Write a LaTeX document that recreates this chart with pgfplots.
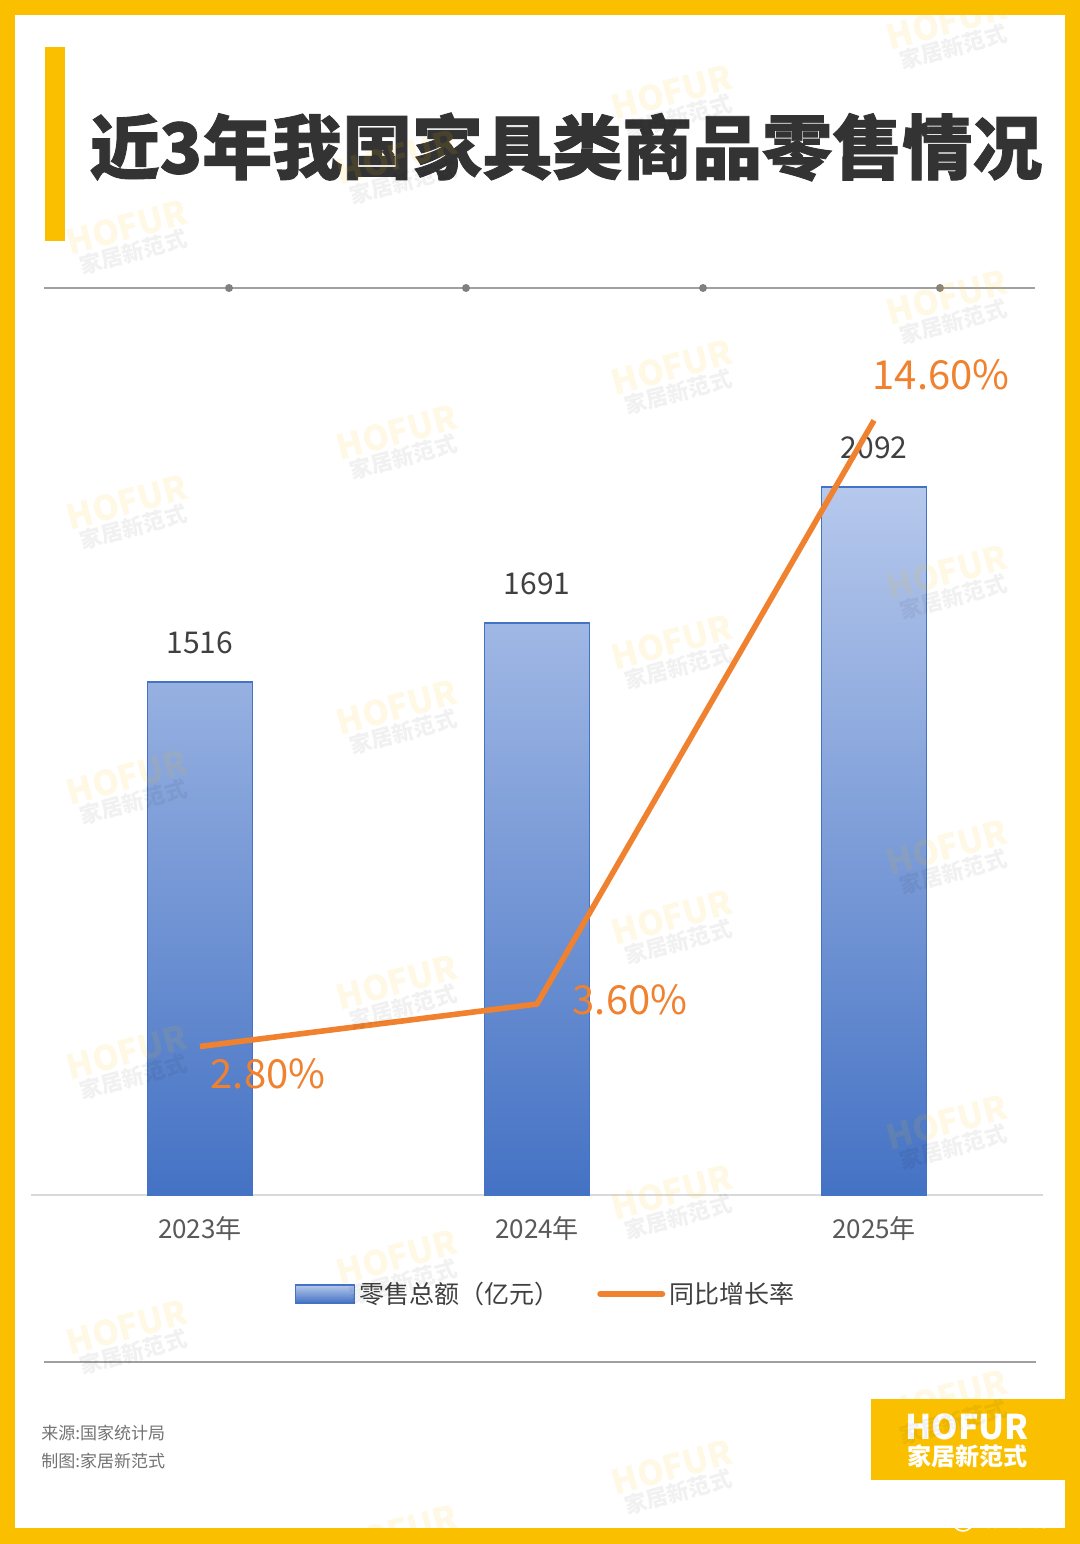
\documentclass[border=0pt]{standalone}
\usepackage{pgfplots}
\pgfplotsset{compat=1.18}
\usepackage{pgfplotstable}
\usepackage{fontspec}
\setmainfont{Noto Sans CJK SC}
\newfontfamily\titlefont{Noto Sans CJK SC}[BoldFeatures={FakeBold=1.2}]
\definecolor{frameyellow}{HTML}{FAC000}
\definecolor{titlegray}{HTML}{333333}
\definecolor{textgray}{HTML}{404040}
\definecolor{tickgray}{HTML}{595959}
\definecolor{barblue}{HTML}{4472C4}
\definecolor{barlight}{HTML}{B6C8EC}
\definecolor{lineorange}{HTML}{F0812F}
\definecolor{rulegray}{HTML}{A0A0A0}
\definecolor{basegray}{HTML}{D9D9D9}
\pgfplotsset{/pgf/number format/assume math mode=true, /pgf/number format/1000 sep={}}

\pgfplotstableread{
x y
0 1516
1 1691
2 2092
}\salesdata
\pgfplotstableread{
x y dx dy
0 2.8 34 -13.5
1 3.6 46.5 2
2 14.6 33.5 23
}\growthdata

\begin{document}
\begin{tikzpicture}
\begin{scope}[x=0.5pt,y=-0.5pt]
\fill[frameyellow] (0,0) rectangle (1080,1544);
\fill[white] (15,15) rectangle (1065,1528);
\fill[frameyellow] (45,47) rectangle (65,241);
\node[font=\titlefont\fontsize{35pt}{37pt}\bfseries, text=titlegray, anchor=center, inner sep=0pt] at (566,147) {近3年我国家具类商品零售情况};
\draw[rulegray, line width=0.75pt] (44,288) -- (1035,288);
\foreach \xx in {229,466,703,940} \fill[gray] (\xx,288) circle (2pt);
\draw[rulegray, line width=0.75pt] (44,1362) -- (1036,1362);
\node[anchor=west, text=black!55, font=\fontsize{8.5pt}{10pt}\selectfont, inner sep=0pt] at (41,1433) {来源:国家统计局};
\node[anchor=west, text=black!55, font=\fontsize{8.5pt}{10pt}\selectfont, inner sep=0pt] at (41,1461) {制图:家居新范式};
\fill[frameyellow] (871,1399) rectangle (1065,1480);
\node[text=white, font=\fontsize{17pt}{18pt}\bfseries, inner sep=0pt] at (967,1427) {HOFUR};
\node[text=white, font=\fontsize{12pt}{13pt}\bfseries, inner sep=0pt] at (967,1456) {家居新范式};
\node[text=white, font=\fontsize{8pt}{9pt}\selectfont, inner sep=0pt] at (1025,1521) {什么值得买};
\draw[white, line width=0.8pt] (963,1521) circle (5pt);
\end{scope}

\begin{axis}[
  at={(15.75pt,-597.5pt)}, anchor=south west,
  scale only axis, width=505.5pt, height=447.5pt,
  xmin=-0.5, xmax=2.5, ymin=0, ymax=2645,
  axis x line=bottom, axis y line=none,
  x axis line style={-, draw=basegray, line width=1pt},
  xtick={0,1,2}, xticklabels={2023年,2024年,2025年},
  major tick length=0pt, ytick=\empty,
  xticklabel style={anchor=center, yshift=-17pt, font=\fontsize{13pt}{15pt}\selectfont, text=tickgray},
  clip=false,
  legend style={at={(0.5094,-0.1106)}, anchor=center, draw=none, fill=none,
    font=\fontsize{12.5pt}{14pt}\selectfont, text=textgray,
    /tikz/every even column/.append style={column sep=17pt}},
  legend columns=2,
]
\addplot[ybar, bar width=52.5pt, draw=barblue, line width=0.75pt,
  top color=barlight, bottom color=barblue,
  nodes near coords, point meta=y,
  every node near coord/.append style={anchor=center, yshift=19.5pt, text=textgray, font=\fontsize{15pt}{17pt}\selectfont},
  legend image code/.code={\draw[draw=barblue, line width=0.75pt, top color=barlight, bottom color=barblue] (0pt,-4.5pt) rectangle (29.5pt,4.5pt);}
] table[x=x,y=y] {\salesdata};
\addlegendentry{零售总额（亿元）}
\addlegendimage{lineorange, line width=3pt, legend image code/.code={\draw[lineorange, line width=3pt, line cap=round] (0pt,0pt) -- (31pt,0pt);}}
\addlegendentry{同比增长率}
\end{axis}

\begin{axis}[
  at={(15.75pt,-597.5pt)}, anchor=south west,
  scale only axis, width=505.5pt, height=447.5pt,
  xmin=-0.5, xmax=2.5, ymin=0, ymax=16.87,
  hide axis, clip=false,
]
\addplot[lineorange, line width=2.8pt, line join=round, mark=none,
  nodes near coords={\pgfmathprintnumber[fixed,fixed zerofill,precision=2]{\pgfplotspointmeta}\%},
  point meta=y,
  visualization depends on={\thisrow{dx} \as \dx},
  visualization depends on={\thisrow{dy} \as \dy},
  every node near coord/.append style={anchor=center, xshift=\dx pt, yshift=\dy pt, text=lineorange, font=\fontsize{20pt}{22pt}\selectfont}
] table[x=x,y=y] {\growthdata};
\end{axis}

\begin{scope}[x=0.5pt,y=-0.5pt]
\clip (15,15) rectangle (1065,1528);
\foreach \cx/\cy/\kmax in {950/35/5,675/105/5,400/170/5,130/240/4} {
  \foreach \k in {0,...,\kmax} {
    \node[rotate=15, text=frameyellow, text opacity=0.1, font=\fontsize{17pt}{18pt}\bfseries, inner sep=0pt] at (\cx-3, {\cy+275*\k-13}) {HOFUR};
    \node[rotate=15, text=black, text opacity=0.055, font=\fontsize{11pt}{12pt}\bfseries, inner sep=0pt] at (\cx+3, {\cy+275*\k+12}) {家居新范式};
  }
}
\end{scope}
\end{tikzpicture}
\end{document}
